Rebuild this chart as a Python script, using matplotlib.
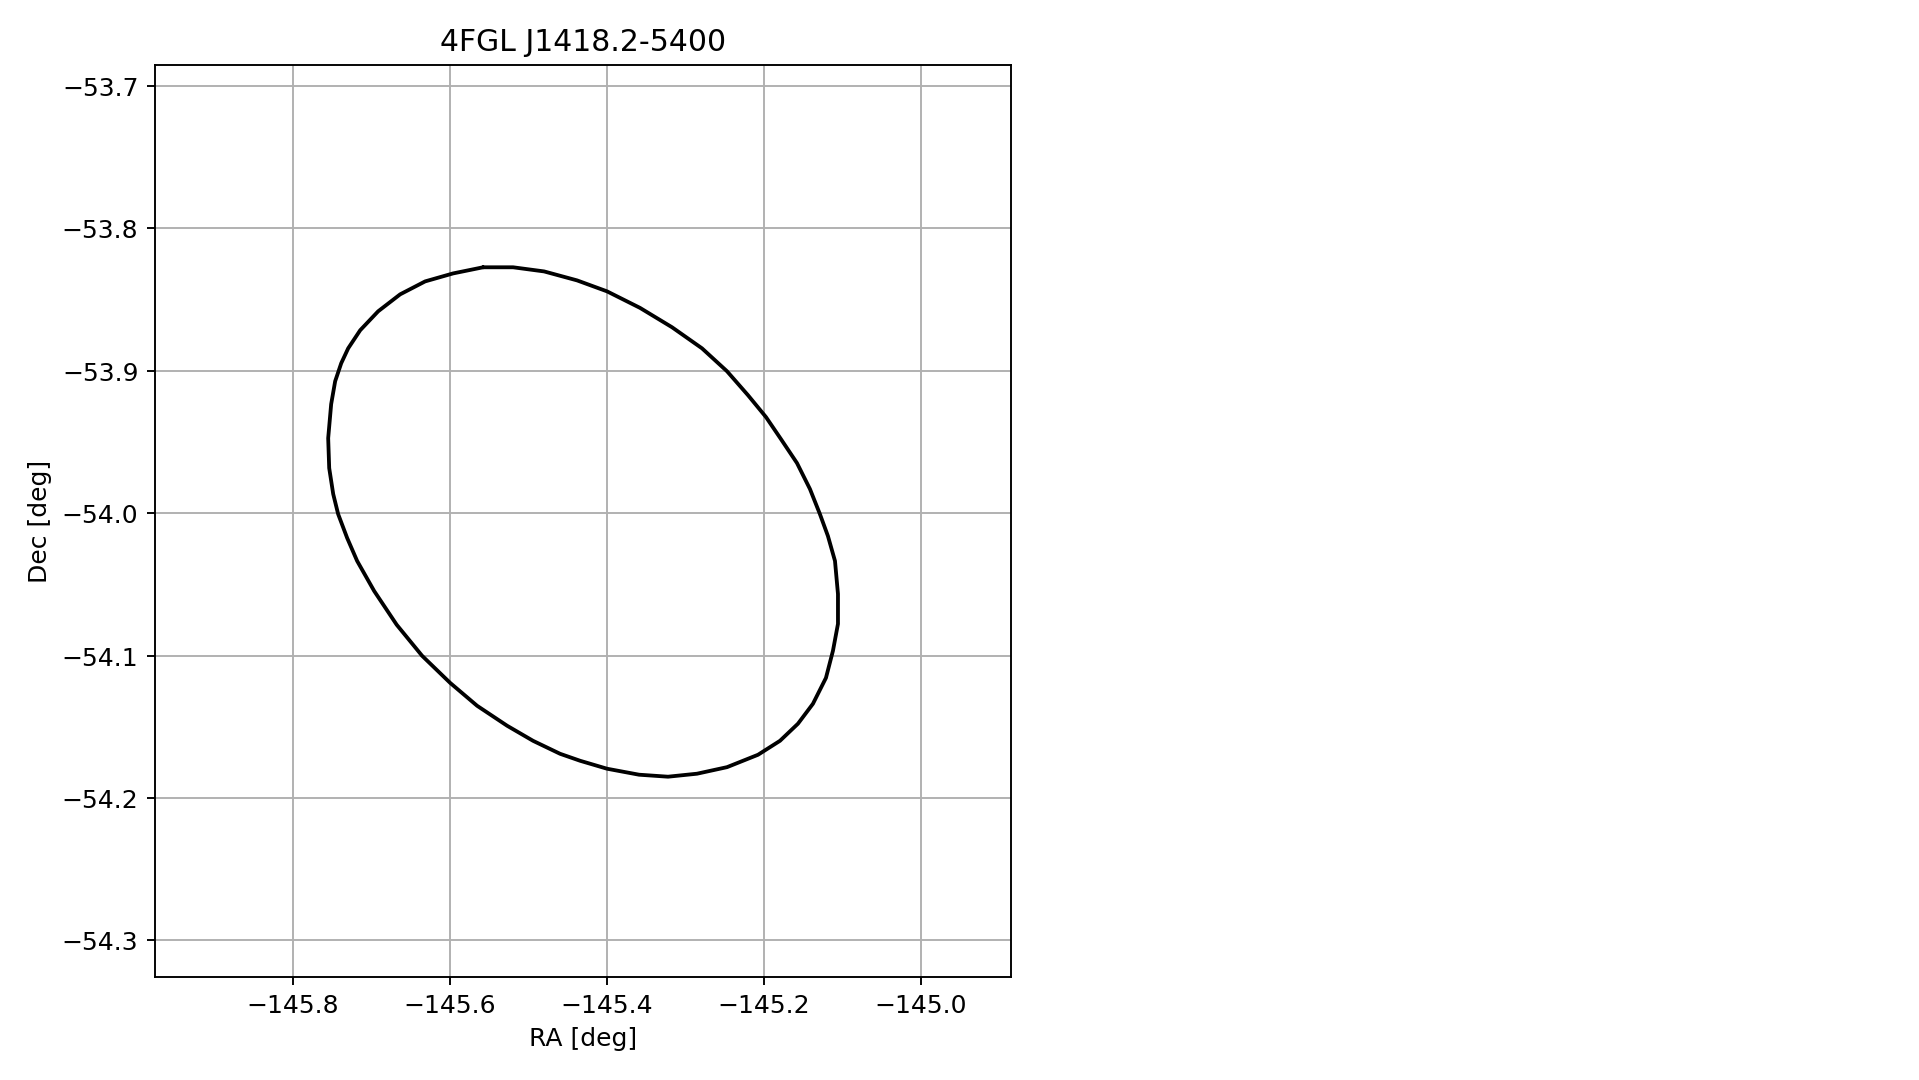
import numpy as np
import matplotlib
matplotlib.use("Agg")
import matplotlib.pyplot as plt

#source name
source = "4FGL J1418.2-5400"

#ellipse vertices (deg)
ra = [-145.5575, -145.5192, -145.4797, -145.4377, -145.3995, -145.3575,
      -145.3167, -145.2785, -145.2466, -145.2199, -145.1969, -145.1778,
      -145.1574, -145.1409, -145.1282, -145.1180, -145.1090, -145.1052,
      -145.1052, -145.1116, -145.1205, -145.1371, -145.1562, -145.1791,
      -145.2071, -145.2466, -145.2848, -145.3218, -145.3587, -145.3995,
      -145.4339, -145.4594, -145.4938, -145.5269, -145.5651, -145.5995,
      -145.6352, -145.6676, -145.6963, -145.7180, -145.7307, -145.7422,
      -145.7485, -145.7536, -145.7549, -145.7511, -145.7460, -145.7383,
      -145.7294, -145.7141, -145.6912, -145.6632, -145.6313, -145.5957]
dec = [-53.8273, -53.8273, -53.8302, -53.8365, -53.8442, -53.8558,
       -53.8694, -53.8842, -53.9003, -53.9171, -53.9325, -53.9480,
       -53.9648, -53.9830, -54.0006, -54.0160, -54.0335, -54.0567,
       -54.0777, -54.0966, -54.1156, -54.1338, -54.1478, -54.1598,
       -54.1696, -54.1783, -54.1829, -54.1850, -54.1836, -54.1794,
       -54.1738, -54.1689, -54.1598, -54.1492, -54.1352, -54.1191,
       -54.1001, -54.0783, -54.0546, -54.0335, -54.0174, -54.0006,
       -53.9865, -53.9683, -53.9473, -53.9234, -53.9073, -53.8947,
       -53.8842, -53.8715, -53.8582, -53.8463, -53.8372, -53.8316]

#close the contour
ra_c = np.append(ra, ra[0])
dec_c = np.append(dec, dec[0])

plt.rcParams['font.size'] = 10.5

dpi = 171
fig = plt.figure(figsize=(1919.4/dpi, 1080.4/dpi), dpi=dpi)
ax = fig.add_axes([0.0808, 0.0954, 0.4460, 0.8444])

ax.plot(ra_c, dec_c, color='k', lw=1.6, solid_joinstyle='round', solid_capstyle='round')

ax.set_xlim(-145.9755, -144.8845)
ax.set_ylim(-54.3256, -53.685)
ax.set_xticks([-145.8, -145.6, -145.4, -145.2, -145.0])
ax.set_yticks([-54.3, -54.2, -54.1, -54.0, -53.9, -53.8, -53.7])
ax.set_xlabel('RA [deg]')
ax.set_ylabel('Dec [deg]')
ax.set_title(source)
ax.grid()

fig.savefig("out.png", dpi=dpi)
